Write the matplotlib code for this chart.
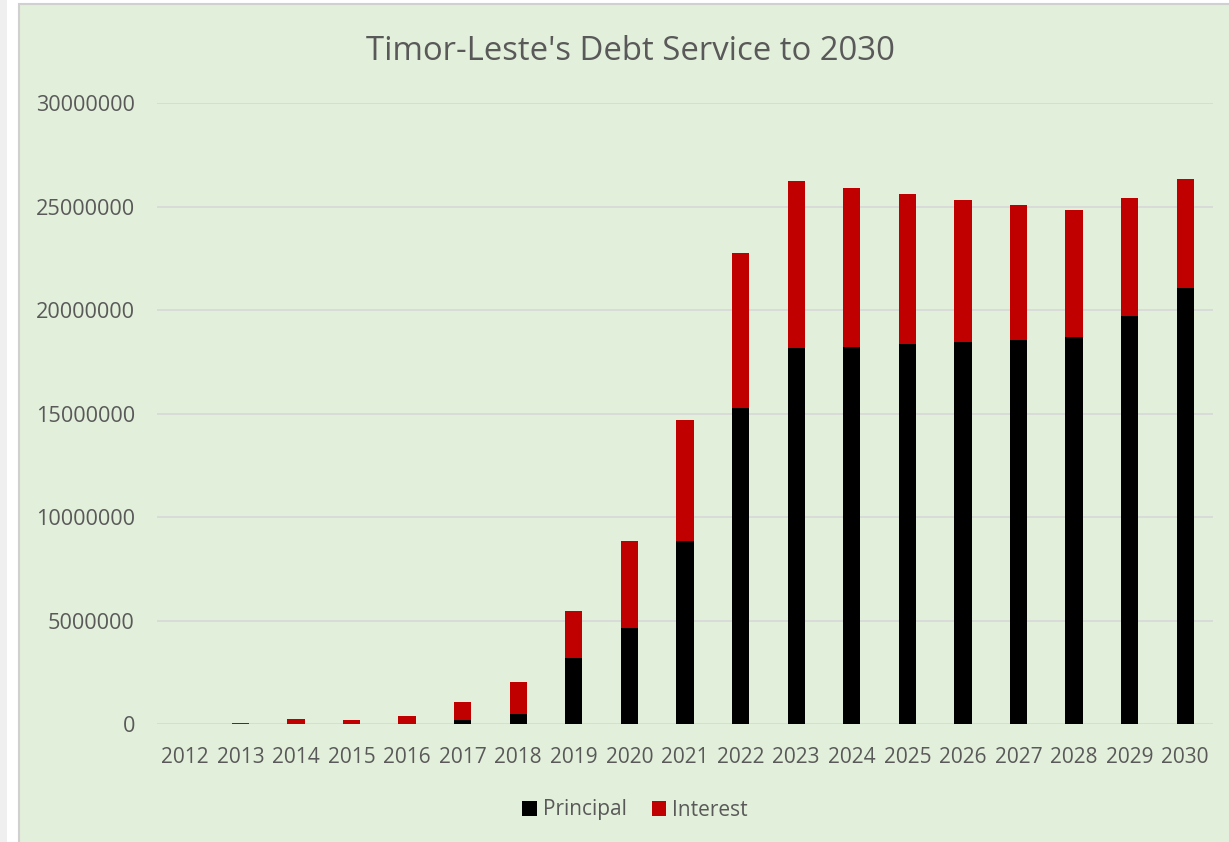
import matplotlib
matplotlib.use("Agg")
import matplotlib.pyplot as plt
from matplotlib.patches import Rectangle, Patch
import numpy as np

years = [str(y) for y in range(2012, 2031)]
principal = [0, 0, 0, 0, 0, 230000, 520000, 3220000, 4660000, 8840000,
             15290000, 18160000, 18220000, 18350000, 18470000, 18580000,
             18730000, 19720000, 21060000]
total = [0, 80000, 260000, 190000, 420000, 1080000, 2060000, 5470000,
         8840000, 14710000, 22770000, 26230000, 25890000, 25610000,
         25340000, 25090000, 24870000, 25450000, 26350000]
interest = [t - p for t, p in zip(total, principal)]

y_ticks = [0, 5000000, 10000000, 15000000, 20000000, 25000000, 30000000]

BG = "#E2EFDA"
TEXT = "#595959"
GRID = "#D9D9D9"
RED = "#C00000"
BLACK = "#000000"

plt.rcParams["font.family"] = ["Open Sans", "DejaVu Sans"]

W, H = 1229, 842
fig = plt.figure(figsize=(W / 100, H / 100), dpi=100)
fig.patch.set_facecolor("white")

# chart frame (page strip, chart area with border)
fig.add_artist(Rectangle((0, 0), 7 / W, 1, transform=fig.transFigure,
                         facecolor="#EFEFEF", edgecolor="none", zorder=0))
fig.add_artist(Rectangle((19 / W, -0.01), 1.0, 1 - 4 / H + 0.01,
                         transform=fig.transFigure, facecolor=BG,
                         edgecolor="#D0D0D0", linewidth=1.5, zorder=0))

left, right = 157 / W, 1213 / W
bottom, top = 1 - 724.4 / H, 1 - 103.3 / H
ax = fig.add_axes([left, bottom, right - left, top - bottom])
ax.set_facecolor("none")

x = np.arange(len(years))
bw = 0.31
p = np.array(principal, dtype=float)
i = np.array(interest, dtype=float)
# empty segments are left out so no hairline is drawn for them
p_draw = np.where(p > 0, p, np.nan)
i_draw = np.where(i > 0, i, np.nan)
ax.bar(x, p_draw, bw, color=BLACK, linewidth=0, label="Principal", zorder=3)
ax.bar(x, i_draw, bw, bottom=p, color=RED, linewidth=0, label="Interest",
       zorder=3)

ax.set_xlim(-0.5, len(years) - 0.5)
ax.set_ylim(0, 30000000)
ax.set_yticks(y_ticks)
ax.set_yticklabels([str(v) for v in y_ticks])
ax.set_xticks(x)
ax.set_xticklabels(years)
ax.tick_params(axis="both", length=0, colors=TEXT)
ax.tick_params(axis="y", pad=16, labelsize=15.6)
ax.tick_params(axis="x", pad=16, labelsize=15)
ax.grid(axis="y", color=GRID, linewidth=1.3, zorder=0)
ax.set_axisbelow(True)
for s in ax.spines.values():
    s.set_visible(False)

fig.text(630 / W, 1 - 52 / H, "Timor-Leste's Debt Service to 2030",
         ha="center", va="center", fontsize=23.7, color=TEXT)

handles = [Patch(facecolor=BLACK), Patch(facecolor=RED)]
fig.legend(handles, ["Principal", "Interest"], loc="center",
           bbox_to_anchor=(635 / W, 1 - 810 / H), ncol=2, frameon=False,
           fontsize=15, labelcolor=TEXT, handlelength=0.7, handleheight=0.7,
           handletextpad=0.3, columnspacing=1.2)

fig.savefig("out.png", dpi=100, facecolor=fig.get_facecolor())
